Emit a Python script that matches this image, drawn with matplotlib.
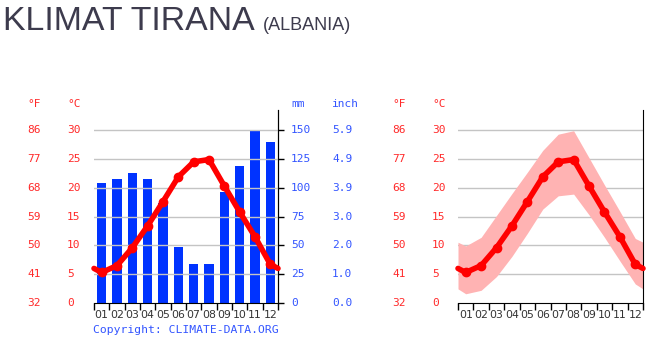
import numpy as np
import matplotlib
matplotlib.use('Agg')
import matplotlib.pyplot as plt
from matplotlib import transforms, font_manager

# data for Tirana
months = ['01', '02', '03', '04', '05', '06', '07', '08', '09', '10', '11', '12']
temp_mean = [5.3, 6.5, 9.6, 13.4, 17.6, 21.9, 24.5, 24.9, 20.3, 15.8, 11.5, 6.7]
temp_max = [9.9, 11.4, 15.2, 19.0, 22.7, 26.5, 29.3, 29.9, 25.2, 20.5, 15.9, 11.2]
temp_min = [1.6, 2.2, 4.6, 8.1, 12.1, 16.3, 18.6, 18.9, 15.3, 11.4, 7.3, 3.3]
precip_mm = [104, 108, 113, 108, 87, 49, 34, 34, 96, 119, 150, 140]
celsius_ticks = [0, 5, 10, 15, 20, 25, 30]
mm_ticks = [0, 25, 50, 75, 100, 125, 150]

RED = '#ff0000'
LABEL_RED = '#ff2a2a'
BAR_BLUE = '#0033ff'
LABEL_BLUE = '#3355ff'
GRID = '#c4c4c4'
MONO = 'DejaVu Sans Mono'

W, H = 654, 362
fig = plt.figure(figsize=(W / 100, H / 100), dpi=100)

def narrow_font():
    # arial narrow look-alike if it's there, else shrink plain liberation
    try:
        font_manager.findfont('Liberation Sans Narrow', fallback_to_default=False)
        return ['Liberation Sans Narrow'], 26, 14.5
    except Exception:
        return ['Liberation Sans'], 24.4, 13

tfont, tsize, ssize = narrow_font()
fig.text(3 / W, 1 - 30 / H, 'KLIMAT TIRANA', fontsize=tsize, family=tfont,
         color='#3d3b4d', va='baseline', ha='left')
fig.text(263 / W, 1 - 30 / H, '(ALBANIA)', fontsize=ssize, family=tfont,
         color='#3d3b4d', va='baseline', ha='left')

x = np.arange(1, 13)
ytop = 33.5
# wrap the curves to the plot edges with the dec/jan average
xe = np.concatenate([[0.5], x, [12.5]])
def wrap(v):
    e = (v[0] + v[-1]) / 2
    return np.concatenate([[e], v, [e]])

def setup(ax):
    ax.set_xlim(0.5, 12.5)
    ax.set_ylim(0, ytop)
    for s in ['left', 'top']:
        ax.spines[s].set_visible(False)
    ax.spines['bottom'].set_color('black')
    ax.spines['right'].set_color('black')
    ax.set_yticks([])
    ax.set_xticks(np.arange(0.5, 13, 1))
    ax.set_xticklabels([])
    ax.tick_params(axis='x', length=5, width=1, direction='out')
    ax.set_xticks(x, minor=True)
    ax.set_xticklabels(months, minor=True, fontsize=7.8, color='#333333')
    ax.tick_params(axis='x', which='minor', length=0, pad=5)
    for c in celsius_ticks[1:]:
        ax.axhline(c, color=GRID, lw=1, zorder=0)

def temp_labels(ax, xf, xc):
    tr = transforms.blended_transform_factory(fig.transFigure, ax.transData)
    for c in celsius_ticks:
        f = round(c * 9 / 5 + 32)
        ax.text(xf / W, c, str(f), transform=tr, color=LABEL_RED, family=MONO,
                fontsize=8, ha='left', va='center')
        ax.text(xc / W, c, str(c), transform=tr, color=LABEL_RED, family=MONO,
                fontsize=8, ha='left', va='center')
    fig.text(xf / W, 1 - 104 / H, '°F', color=LABEL_RED, family=MONO, fontsize=8, va='center')
    fig.text(xc / W, 1 - 104 / H, '°C', color=LABEL_RED, family=MONO, fontsize=8, va='center')

bottom = (H - 303) / H
height = (303 - 110) / H

# left: climate chart
ax1 = fig.add_axes([94 / W, bottom, 184 / W, height])
setup(ax1)
ax2 = ax1.twinx()
ax2.set_ylim(0, ytop * 5)
ax2.bar(x, precip_mm, width=0.6, color=BAR_BLUE, zorder=2)
ax2.set_yticks(mm_ticks)
ax2.set_yticklabels([])
ax2.tick_params(axis='y', length=4, width=1, direction='out', color='black')
for s in ['left', 'top', 'bottom']:
    ax2.spines[s].set_visible(False)
ax2.spines['right'].set_color('black')
ax1.set_zorder(ax2.get_zorder() + 1)
ax1.patch.set_visible(False)
ax1.plot(xe, wrap(np.array(temp_mean)), color=RED, lw=4, solid_capstyle='round',
         solid_joinstyle='round', zorder=3, clip_on=False)
ax1.plot(x, temp_mean, 'o', color=RED, ms=6, zorder=4)
temp_labels(ax1, 27, 67)

tr2 = transforms.blended_transform_factory(fig.transFigure, ax2.transData)
for m in mm_ticks:
    ax2.text(291 / W, m, str(m), transform=tr2, color=LABEL_BLUE, family=MONO,
             fontsize=8, ha='left', va='center')
    ax2.text(332 / W, m, '%.1f' % (m / 25.4), transform=tr2, color=LABEL_BLUE,
             family=MONO, fontsize=8, ha='left', va='center')
fig.text(291 / W, 1 - 104 / H, 'mm', color=LABEL_BLUE, family=MONO, fontsize=8, va='center')
fig.text(332 / W, 1 - 104 / H, 'inch', color=LABEL_BLUE, family=MONO, fontsize=8, va='center')
fig.text(186 / W, 1 - 330 / H, 'Copyright: CLIMATE-DATA.ORG', color=LABEL_BLUE,
         family=MONO, fontsize=8.2, ha='center', va='center')

# right: temperature range chart
ax3 = fig.add_axes([458 / W, bottom, 185 / W, height])
setup(ax3)
ax3.fill_between(xe, wrap(np.array(temp_min)), wrap(np.array(temp_max)),
                 color='#ffb3b3', lw=0, zorder=1)
ax3.plot(xe, wrap(np.array(temp_mean)), color=RED, lw=4, solid_capstyle='round',
         solid_joinstyle='round', zorder=3, clip_on=False)
ax3.plot(x, temp_mean, 'o', color=RED, ms=6, zorder=4)
temp_labels(ax3, 392, 432)

fig.savefig('out.png', dpi=100)
